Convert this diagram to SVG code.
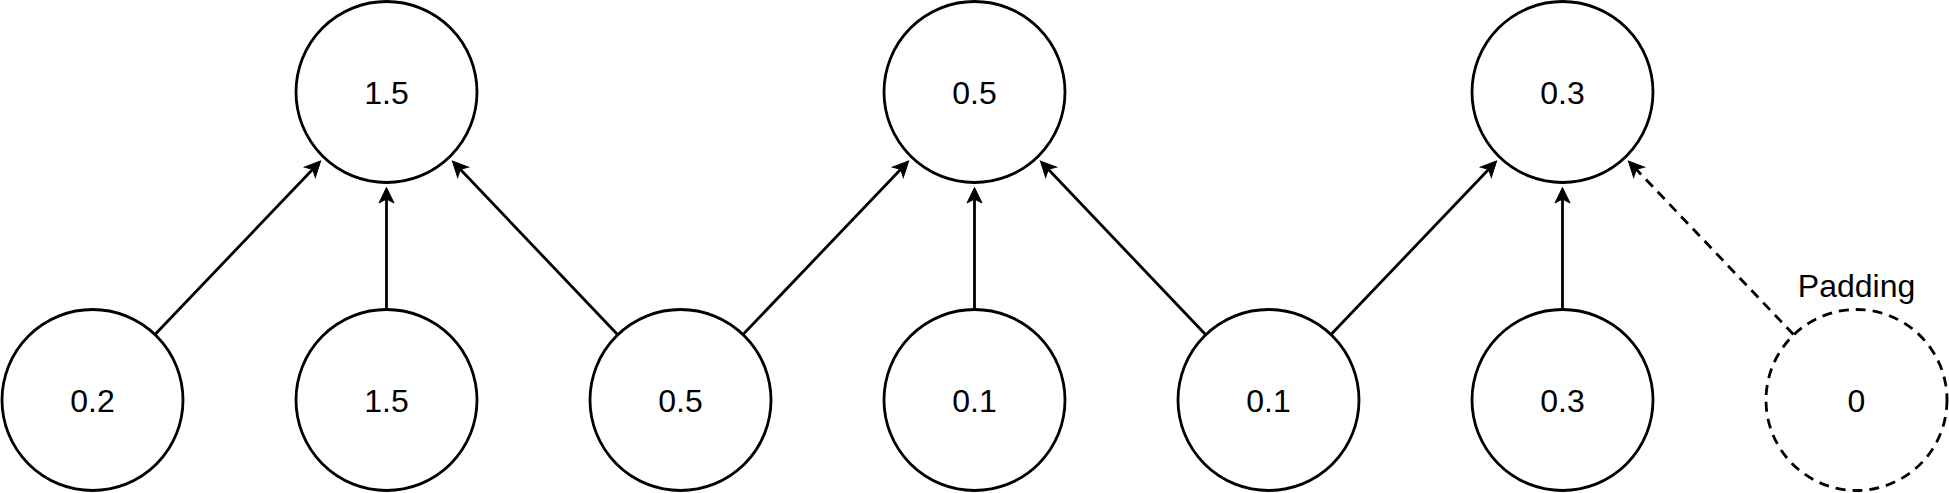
<svg xmlns="http://www.w3.org/2000/svg" width="1949" height="493" viewBox="0 0 1949 493">
<style>
.node{fill:#fff;stroke:#000;stroke-width:2.8}
.dash{stroke-dasharray:10 7}
.lbl{font-family:"Liberation Sans",Arial,sans-serif;font-size:32px;fill:#000;text-anchor:middle}
.edge{fill:none;stroke:#000;stroke-width:2.8;marker-end:url(#arr)}
</style>
<defs>
<marker id="arr" markerUnits="userSpaceOnUse" viewBox="-20 -10 40 20" markerWidth="40" markerHeight="20" refX="0" refY="0" orient="auto" overflow="visible">
<path d="M10,0 L-5.5,-7.5 L-1.5,0 L-5.5,7.5 Z" fill="#000" stroke="#000" stroke-width="1"/>
</marker>
</defs>
<g id="edges">
<path class="edge" d="M155,334.5 L313.7,168.3"/>
<path class="edge" d="M386.5,309.5 L386.5,197.5"/>
<path class="edge" d="M617.5,334.5 L459.3,168.3"/>
<path class="edge" d="M743,334.5 L901.7,168.3"/>
<path class="edge" d="M974.5,309.5 L974.5,197.5"/>
<path class="edge" d="M1205.5,334.5 L1047.3,168.3"/>
<path class="edge" d="M1331,334.5 L1489.7,168.3"/>
<path class="edge" d="M1562.5,309.5 L1562.5,197.5"/>
<path class="edge dash" d="M1793.5,334.5 L1635.3,168.3"/>
</g>
<g id="top1"><circle class="node" cx="386.5" cy="92" r="90.5"/><text class="lbl" x="386.5" y="103.5">1.5</text></g>
<g id="top2"><circle class="node" cx="974.5" cy="92" r="90.5"/><text class="lbl" x="974.5" y="103.5">0.5</text></g>
<g id="top3"><circle class="node" cx="1562.5" cy="92" r="90.5"/><text class="lbl" x="1562.5" y="103.5">0.3</text></g>
<g id="b1"><circle class="node" cx="92.5" cy="400" r="90.5"/><text class="lbl" x="92.5" y="411.5">0.2</text></g>
<g id="b2"><circle class="node" cx="386.5" cy="400" r="90.5"/><text class="lbl" x="386.5" y="411.5">1.5</text></g>
<g id="b3"><circle class="node" cx="680.5" cy="400" r="90.5"/><text class="lbl" x="680.5" y="411.5">0.5</text></g>
<g id="b4"><circle class="node" cx="974.5" cy="400" r="90.5"/><text class="lbl" x="974.5" y="411.5">0.1</text></g>
<g id="b5"><circle class="node" cx="1268.5" cy="400" r="90.5"/><text class="lbl" x="1268.5" y="411.5">0.1</text></g>
<g id="b6"><circle class="node" cx="1562.5" cy="400" r="90.5"/><text class="lbl" x="1562.5" y="411.5">0.3</text></g>
<g id="pad"><circle class="node dash" cx="1856.5" cy="400" r="90.5"/><text class="lbl" x="1856.5" y="411.5">0</text><text class="lbl" x="1856.5" y="297">Padding</text></g>
</svg>
